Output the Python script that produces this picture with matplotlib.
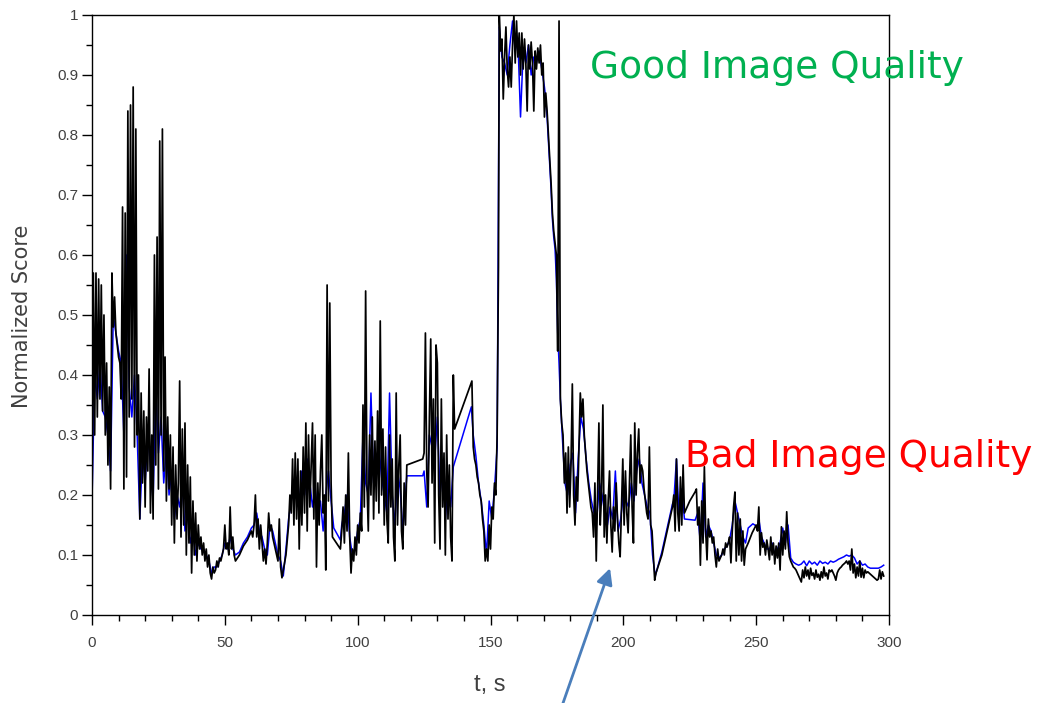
import matplotlib
matplotlib.use("Agg")
import matplotlib.pyplot as plt
from matplotlib.ticker import MultipleLocator, FuncFormatter

# ---------------- data (t in s, normalized score) ----------------
# black series, given as segments: (start time, sample step, values)
black_01_t0, black_01_dt = 0.0, 0.5
black_01 = [0.17, 0.57, 0.30, 0.57, 0.33, 0.56, 0.36, 0.55, 0.34, 0.50,
            0.30, 0.42, 0.25, 0.38, 0.21, 0.57, 0.48, 0.53, 0.47, 0.45,
            0.43, 0.42, 0.36, 0.68, 0.21, 0.67, 0.23, 0.84, 0.33, 0.85,
            0.36, 0.88, 0.28, 0.81, 0.30, 0.40, 0.16, 0.37, 0.22, 0.34,
            0.18, 0.33, 0.24, 0.41, 0.17, 0.30, 0.16, 0.60, 0.25, 0.63,
            0.21, 0.79, 0.30, 0.81, 0.24, 0.43, 0.19, 0.33, 0.21, 0.30,
            0.15, 0.28, 0.12, 0.25, 0.16, 0.22, 0.39, 0.13, 0.31, 0.15,
            0.32, 0.10, 0.25, 0.12, 0.23, 0.07, 0.19, 0.10, 0.17, 0.09,
            0.15, 0.11, 0.13, 0.10, 0.12, 0.09, 0.11, 0.08, 0.10, 0.07,
            0.06, 0.08, 0.07]
black_02_t0, black_02_dt = 46.5, 0.5
black_02 = [0.075, 0.09, 0.08, 0.095, 0.09, 0.10, 0.11, 0.15, 0.11, 0.12,
            0.10, 0.18, 0.11, 0.13, 0.10, 0.09]
black_03_t0, black_03_dt = 55.5, 1.5
black_03 = [0.10, 0.115, 0.125, 0.14]
black_04_t0, black_04_dt = 60.5, 0.5
black_04 = [0.13, 0.15, 0.20, 0.13, 0.16, 0.11, 0.15, 0.12, 0.09, 0.11,
            0.085, 0.12, 0.17, 0.14, 0.15, 0.13, 0.12, 0.11, 0.10, 0.09,
            0.16, 0.08, 0.062, 0.075]
black_05_t0, black_05_dt = 73.0, 1.0
black_05 = [0.10, 0.15]
black_06_t0, black_06_dt = 74.5, 0.5
black_06 = [0.20, 0.17, 0.26, 0.15, 0.27, 0.16, 0.26, 0.11, 0.24, 0.15,
            0.28, 0.17, 0.32, 0.14, 0.30, 0.18, 0.25, 0.32, 0.16, 0.30,
            0.08, 0.22, 0.15, 0.24, 0.30, 0.17, 0.20, 0.075, 0.55, 0.19,
            0.52, 0.22, 0.13]
black_07_t0, black_07_dt = 92.0, 1.5
black_07 = [0.12, 0.11]
black_08_t0, black_08_dt = 94.0, 0.5
black_08 = [0.14, 0.18, 0.12, 0.20, 0.14, 0.27, 0.13, 0.07, 0.11, 0.09,
            0.13, 0.10, 0.15, 0.12, 0.17, 0.14, 0.35, 0.18, 0.54, 0.22,
            0.14, 0.30, 0.20, 0.33, 0.16, 0.29, 0.19, 0.34, 0.17, 0.49,
            0.20, 0.31, 0.15, 0.28, 0.16, 0.12, 0.30, 0.18, 0.26, 0.13,
            0.09, 0.37, 0.15, 0.25, 0.30, 0.14, 0.11, 0.22, 0.15, 0.25]
black_09_t0, black_09_dt = 124.5, 0.5
black_09 = [0.26]
black_10_t0, black_10_dt = 125.0, 0.5
black_10 = [0.27, 0.47, 0.24, 0.18, 0.33, 0.46, 0.22, 0.36, 0.12, 0.45,
            0.42, 0.20, 0.11, 0.36, 0.18, 0.27, 0.10, 0.30, 0.16, 0.25,
            0.13, 0.09, 0.40, 0.31]
black_11_t0, black_11_dt = 143.0, 0.5
black_11 = [0.39]
black_12_t0, black_12_dt = 143.5, 0.5
black_12 = [0.28, 0.26, 0.25, 0.23, 0.22, 0.20, 0.19, 0.16, 0.14, 0.09, 0.11]
black_13_t0, black_13_dt = 149.0, 0.5
black_13 = [0.09, 0.15, 0.11, 0.18, 0.16, 0.22, 0.20, 0.30, 0.58]
black_14_t0, black_14_dt = 153.3, 0.5
black_14 = [1.00, 0.94, 0.96, 0.86, 0.93, 0.98, 0.91, 0.88, 0.93, 0.88,
            0.95, 1.00, 0.92, 0.99, 0.93, 0.97, 0.90, 0.97, 0.91, 0.96,
            0.92, 0.84, 0.95, 0.91, 0.955, 0.92, 0.84, 0.94, 0.91, 0.945,
            0.92, 0.95, 0.90, 0.92, 0.83]
black_15_t0, black_15_dt = 170.8, 0.5
black_15 = [0.87, 0.84, 0.80, 0.76, 0.72, 0.67, 0.64, 0.62, 0.60, 0.44,
            0.99, 0.36]
black_16_t0, black_16_dt = 176.8, 0.5
black_16 = [0.32, 0.30, 0.22, 0.27, 0.17, 0.28, 0.18, 0.25, 0.385, 0.20,
            0.15, 0.23, 0.19, 0.28, 0.37, 0.33, 0.36, 0.30, 0.27, 0.24,
            0.22, 0.20, 0.18, 0.17, 0.13, 0.22, 0.09, 0.20, 0.32, 0.15,
            0.20, 0.35, 0.13, 0.20, 0.12, 0.19, 0.24, 0.15, 0.105, 0.18,
            0.14, 0.22, 0.16, 0.12, 0.097, 0.18, 0.26, 0.15, 0.24, 0.17,
            0.137, 0.22, 0.30, 0.18, 0.12, 0.32, 0.20, 0.27, 0.31, 0.22,
            0.25, 0.24, 0.21, 0.19, 0.17, 0.16, 0.28, 0.15, 0.14, 0.10,
            0.058, 0.07]
black_17_t0, black_17_dt = 214.5, 2.0
black_17 = [0.10, 0.14, 0.18]
black_18_t0, black_18_dt = 219.0, 0.5
black_18 = [0.20, 0.14, 0.26, 0.17, 0.14, 0.23, 0.15, 0.25]
black_19_t0, black_19_dt = 223.0, 2.0
black_19 = [0.17, 0.19, 0.205]
black_20_t0, black_20_dt = 227.5, 0.5
black_20 = [0.21, 0.15, 0.18, 0.083, 0.19, 0.12, 0.247, 0.14, 0.092, 0.16,
            0.13, 0.14, 0.12, 0.13, 0.10, 0.08, 0.11, 0.09, 0.095, 0.10,
            0.11, 0.10, 0.12, 0.113, 0.12, 0.13, 0.087, 0.14, 0.18, 0.205,
            0.09, 0.17, 0.10, 0.16, 0.09, 0.14, 0.083, 0.11]
black_21_t0, black_21_dt = 247.0, 1.5
black_21 = [0.12, 0.137, 0.15]
black_22_t0, black_22_dt = 250.5, 0.5
black_22 = [0.14, 0.18, 0.10, 0.137, 0.113, 0.12, 0.10, 0.125, 0.11, 0.092,
            0.13, 0.10, 0.12, 0.085, 0.115, 0.095, 0.12, 0.075, 0.147, 0.10,
            0.14, 0.11, 0.172, 0.12, 0.097]
black_23_t0, black_23_dt = 263.0, 0.5
black_23 = [0.09, 0.085, 0.08, 0.078, 0.075, 0.07, 0.065, 0.06, 0.055, 0.075,
            0.062, 0.08, 0.065, 0.075, 0.06, 0.078, 0.066, 0.07, 0.06, 0.075,
            0.063, 0.068, 0.058, 0.072, 0.062, 0.08, 0.065, 0.07, 0.06, 0.075,
            0.072, 0.075, 0.07, 0.065, 0.058, 0.07, 0.075, 0.078, 0.08, 0.083,
            0.085, 0.087, 0.09, 0.085, 0.09, 0.075, 0.11, 0.07, 0.085, 0.062,
            0.08, 0.065, 0.09, 0.063, 0.078, 0.062, 0.075, 0.07, 0.072, 0.07,
            0.068, 0.066, 0.064, 0.062, 0.06, 0.058, 0.06, 0.075, 0.06, 0.072,
            0.065]

# blue series
blue_01_t0, blue_01_dt = 0.0, 1.0
blue_01 = [0.19, 0.40, 0.36, 0.42, 0.34, 0.33, 0.30, 0.24, 0.50, 0.47,
           0.44, 0.42, 0.30, 0.60, 0.38, 0.33, 0.40, 0.30, 0.16, 0.27,
           0.22, 0.30, 0.25, 0.19, 0.38, 0.27, 0.33, 0.22, 0.28, 0.20,
           0.24, 0.16, 0.20, 0.18, 0.22, 0.14, 0.17, 0.12, 0.14, 0.10,
           0.12, 0.11, 0.11, 0.10, 0.09, 0.07, 0.08]
blue_02_t0, blue_02_dt = 47.0, 1.0
blue_02 = [0.08, 0.09, 0.10, 0.12, 0.11, 0.13, 0.11, 0.10]
blue_03_t0, blue_03_dt = 55.5, 1.5
blue_03 = [0.105, 0.12, 0.13, 0.145]
blue_04_t0, blue_04_dt = 61.0, 1.0
blue_04 = [0.15, 0.17, 0.14, 0.13, 0.11, 0.10, 0.15, 0.14, 0.12, 0.10,
           0.09, 0.065]
blue_05_t0, blue_05_dt = 73.0, 1.0
blue_05 = [0.11, 0.16]
blue_06_t0, blue_06_dt = 75.0, 1.0
blue_06 = [0.19, 0.22, 0.20, 0.18, 0.24, 0.20, 0.26, 0.22, 0.18, 0.21,
           0.17, 0.19, 0.14, 0.20, 0.24, 0.19]
blue_07_t0, blue_07_dt = 91.0, 2.5
blue_07 = [0.145, 0.125]
blue_08_t0, blue_08_dt = 94.0, 1.0
blue_08 = [0.15, 0.17, 0.20, 0.13, 0.10, 0.11, 0.14, 0.16, 0.30, 0.22,
           0.20, 0.37, 0.22, 0.25, 0.28, 0.23, 0.20, 0.17, 0.37, 0.20,
           0.15, 0.24, 0.21, 0.14, 0.20]
blue_09_t0, blue_09_dt = 118.5, 6.0
blue_09 = [0.232, 0.232]
blue_10_t0, blue_10_dt = 125.0, 1.0
blue_10 = [0.24, 0.18, 0.30, 0.28, 0.26, 0.33, 0.20, 0.25, 0.16, 0.22,
           0.18, 0.247]
blue_11_t0, blue_11_dt = 142.8, 1.0
blue_11 = [0.347]
blue_12_t0, blue_12_dt = 143.5, 1.0
blue_12 = [0.30, 0.265, 0.22, 0.19, 0.15, 0.10, 0.19, 0.16, 0.21, 0.28]
blue_13_t0, blue_13_dt = 153.3, 1.0
blue_13 = [0.98, 0.93, 0.92, 0.90, 0.95, 0.99, 0.94, 0.96, 0.83, 0.94,
           0.92, 0.95, 0.90, 0.93, 0.92, 0.94, 0.91, 0.88]
blue_14_t0, blue_14_dt = 170.8, 0.5
blue_14 = [0.86, 0.83, 0.79, 0.75, 0.71, 0.66, 0.63, 0.61, 0.56, 0.47,
           0.42, 0.36]
blue_15_t0, blue_15_dt = 177.0, 1.0
blue_15 = [0.30, 0.22, 0.20, 0.25, 0.27, 0.17, 0.26, 0.33, 0.31, 0.26,
           0.22, 0.19, 0.17, 0.16, 0.22, 0.20, 0.17, 0.15, 0.18, 0.16,
           0.24, 0.14, 0.16, 0.20, 0.19, 0.18, 0.22, 0.19, 0.24, 0.26,
           0.22, 0.20, 0.18, 0.17, 0.10, 0.065]
blue_16_t0, blue_16_dt = 214.5, 2.0
blue_16 = [0.105, 0.145, 0.185]
blue_17_t0, blue_17_dt = 219.0, 1.0
blue_17 = [0.19, 0.26, 0.16, 0.21]
blue_18_t0, blue_18_dt = 223.0, 4.0
blue_18 = [0.16, 0.158]
blue_19_t0, blue_19_dt = 228.0, 1.0
blue_19 = [0.17, 0.12, 0.22, 0.13, 0.15, 0.14, 0.12, 0.10, 0.095, 0.10,
           0.11, 0.115, 0.125, 0.15, 0.19, 0.17, 0.15, 0.13, 0.12]
blue_20_t0, blue_20_dt = 247.0, 1.75
blue_20 = [0.145, 0.152, 0.147]
blue_21_t0, blue_21_dt = 251.0, 1.0
blue_21 = [0.16, 0.13, 0.12, 0.11, 0.11, 0.12, 0.10, 0.11, 0.12, 0.145,
           0.12, 0.15]
blue_22_t0, blue_22_dt = 263.0, 1.0
blue_22 = [0.095, 0.088, 0.085, 0.083, 0.085, 0.09, 0.082, 0.09, 0.085, 0.088,
           0.083, 0.09, 0.086, 0.088, 0.085, 0.09, 0.088, 0.09, 0.093, 0.095,
           0.097, 0.10, 0.098, 0.10, 0.095, 0.085, 0.09, 0.083, 0.085, 0.08,
           0.078, 0.078, 0.078, 0.078, 0.08, 0.083]

x_ticks = [0, 50, 100, 150, 200, 250, 300]
y_ticks = [0, 0.1, 0.2, 0.3, 0.4, 0.5, 0.6, 0.7, 0.8, 0.9, 1.0]
x_label = "t, s"
y_label = "Normalized Score"
good_text = "Good Image Quality"
bad_text = "Bad Image Quality"
arrow_tip = (195.0, 0.078)


def build(segments):
    ts, ys = [], []
    for t0, dt, vals in segments:
        for i, v in enumerate(vals):
            ts.append(t0 + dt * i)
            ys.append(v)
    return ts, ys


black_t, black_y = build([
    (black_01_t0, black_01_dt, black_01), (black_02_t0, black_02_dt, black_02),
    (black_03_t0, black_03_dt, black_03), (black_04_t0, black_04_dt, black_04),
    (black_05_t0, black_05_dt, black_05), (black_06_t0, black_06_dt, black_06),
    (black_07_t0, black_07_dt, black_07), (black_08_t0, black_08_dt, black_08),
    (black_09_t0, black_09_dt, black_09), (black_10_t0, black_10_dt, black_10),
    (black_11_t0, black_11_dt, black_11), (black_12_t0, black_12_dt, black_12),
    (black_13_t0, black_13_dt, black_13), (black_14_t0, black_14_dt, black_14),
    (black_15_t0, black_15_dt, black_15), (black_16_t0, black_16_dt, black_16),
    (black_17_t0, black_17_dt, black_17), (black_18_t0, black_18_dt, black_18),
    (black_19_t0, black_19_dt, black_19), (black_20_t0, black_20_dt, black_20),
    (black_21_t0, black_21_dt, black_21), (black_22_t0, black_22_dt, black_22),
    (black_23_t0, black_23_dt, black_23),
])
blue_t, blue_y = build([
    (blue_01_t0, blue_01_dt, blue_01), (blue_02_t0, blue_02_dt, blue_02),
    (blue_03_t0, blue_03_dt, blue_03), (blue_04_t0, blue_04_dt, blue_04),
    (blue_05_t0, blue_05_dt, blue_05), (blue_06_t0, blue_06_dt, blue_06),
    (blue_07_t0, blue_07_dt, blue_07), (blue_08_t0, blue_08_dt, blue_08),
    (blue_09_t0, blue_09_dt, blue_09), (blue_10_t0, blue_10_dt, blue_10),
    (blue_11_t0, blue_11_dt, blue_11), (blue_12_t0, blue_12_dt, blue_12),
    (blue_13_t0, blue_13_dt, blue_13), (blue_14_t0, blue_14_dt, blue_14),
    (blue_15_t0, blue_15_dt, blue_15), (blue_16_t0, blue_16_dt, blue_16),
    (blue_17_t0, blue_17_dt, blue_17), (blue_18_t0, blue_18_dt, blue_18),
    (blue_19_t0, blue_19_dt, blue_19), (blue_20_t0, blue_20_dt, blue_20),
    (blue_21_t0, blue_21_dt, blue_21), (blue_22_t0, blue_22_dt, blue_22),
])

# ---------------- figure ----------------
W, H, DPI = 1037, 703, 100
fig = plt.figure(figsize=(W / DPI, H / DPI), dpi=DPI)
ax = fig.add_axes([92 / W, (H - 615) / H, (889 - 92) / W, 600 / H])

ax.plot(blue_t, blue_y, color="#0000FF", lw=1.1, zorder=2)
ax.plot(black_t, black_y, color="#000000", lw=1.25, zorder=3)

ax.set_xlim(0, 300)
ax.set_ylim(0, 1)
ax.set_xticks(x_ticks)
ax.set_yticks(y_ticks)
ax.xaxis.set_minor_locator(MultipleLocator(10))
ax.yaxis.set_minor_locator(MultipleLocator(0.05))
ax.yaxis.set_major_formatter(FuncFormatter(lambda v, p: "%g" % v))

tick_font = ["Liberation Sans Narrow", "Liberation Sans", "DejaVu Sans"]
ax.tick_params(which="major", direction="out", length=7, width=1,
               color="#000000", labelcolor="#404040", labelsize=11)
ax.tick_params(which="minor", direction="out", length=4, width=1,
               color="#000000")
ax.tick_params(axis="x", which="major", pad=8)
ax.tick_params(axis="y", which="major", pad=3)
for lab in ax.get_xticklabels() + ax.get_yticklabels():
    lab.set_family(tick_font)
for sp in ax.spines.values():
    sp.set_linewidth(1.0)
    sp.set_color("#000000")

ax.set_xlabel(x_label, family=tick_font, fontsize=17, color="#404040",
              va="center", ha="center")
ax.xaxis.set_label_coords((490 - 92) / 797, (615 - 685) / 600)
ax.set_ylabel(y_label, family=["DejaVu Sans"], fontsize=15, color="#404040",
              va="center", ha="center")
ax.yaxis.set_label_coords((22 - 92) / 797, (615 - 316) / 600)

fig.text(590 / W, (H - 78) / H, good_text, color="#00B050", fontsize=27,
         family=["DejaVu Sans"], ha="left", va="baseline")
fig.text(685 / W, (H - 467) / H, bad_text, color="#FF0000", fontsize=27,
         family=["DejaVu Sans"], ha="left", va="baseline")

ax.annotate("", xy=arrow_tip, xycoords="data",
            xytext=(562, -3), textcoords="figure pixels",
            arrowprops=dict(arrowstyle="-|>", color="#4A7EBB", lw=2,
                            mutation_scale=24, shrinkA=0, shrinkB=0),
            annotation_clip=False, zorder=5)

fig.savefig("out.png", dpi=DPI)
